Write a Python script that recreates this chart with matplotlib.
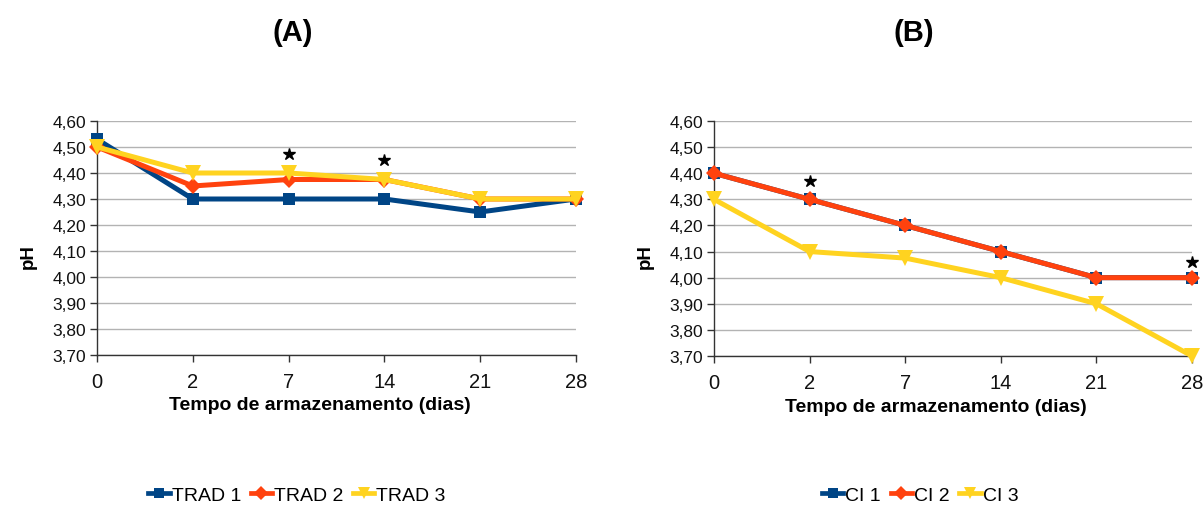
import matplotlib
matplotlib.use("Agg")
import matplotlib.pyplot as plt

plt.rcParams['font.family'] = ['Liberation Sans', 'DejaVu Sans']

days = ["0", "2", "7", "14", "21", "28"]
y_ticks = [3.70, 3.80, 3.90, 4.00, 4.10, 4.20, 4.30, 4.40, 4.50, 4.60]

trad1 = [4.53, 4.30, 4.30, 4.30, 4.25, 4.30]
trad2 = [4.50, 4.35, 4.375, 4.375, 4.30, 4.30]
trad3 = [4.50, 4.40, 4.40, 4.375, 4.30, 4.30]
trad_stars_x = [2, 3]
trad_stars_y = [4.473, 4.45]

ci1 = [4.40, 4.30, 4.20, 4.10, 4.00, 4.00]
ci2 = [4.40, 4.30, 4.20, 4.10, 4.00, 4.00]
ci3 = [4.30, 4.10, 4.075, 4.00, 3.90, 3.70]
ci_stars_x = [1, 5]
ci_stars_y = [4.37, 4.06]

BLUE = "#004586"
ORANGE = "#ff420e"
YELLOW = "#ffd320"
GRID = "#b3b3b3"
AXIS = "#333333"

W, H = 1204, 506
fig = plt.figure(figsize=(W / 100, H / 100), dpi=100)


def px_axes(left, top, right, bottom):
    return fig.add_axes([left / W, 1 - bottom / H, (right - left) / W,
                         (bottom - top) / H])


axA = px_axes(97, 122, 576, 356)
axB = px_axes(714, 122, 1192, 357)


def draw_panel(ax, series, labels, stars_x, stars_y, title, title_x,
               ylab_x, xlab_x, xlab_y, legend_x):
    styles = [(BLUE, "s", 9), (ORANGE, "D", 8), (YELLOW, "v", 11)]
    x = list(range(len(days)))
    for vals, lab, (c, m, ms) in zip(series, labels, styles):
        ax.plot(x, vals, color=c, lw=3.6, marker=m, ms=ms,
                markeredgewidth=0, label=lab, clip_on=False, zorder=3)
    ax.plot(stars_x, stars_y, ls="none", marker="*", color="black", ms=9,
            clip_on=False, zorder=4)
    ax.set_xlim(0, len(days) - 1)
    ax.set_ylim(3.70, 4.60)
    ax.set_xticks(x)
    ax.set_xticklabels(days)
    ax.set_yticks(y_ticks)
    ax.set_yticklabels([f"{v:.2f}".replace(".", ",") for v in y_ticks])
    ax.tick_params(axis="both", color=AXIS, length=5, width=1,
                   labelcolor="#111111")
    ax.tick_params(axis="y", labelsize=12.5, pad=3)
    ax.tick_params(axis="x", labelsize=14.5, pad=7)
    ax.grid(axis="y", color=GRID, lw=1)
    ax.set_axisbelow(True)
    for s in ("top", "right"):
        ax.spines[s].set_visible(False)
    for s in ("left", "bottom"):
        ax.spines[s].set_color(AXIS)
        ax.spines[s].set_linewidth(1)
    fig.text(title_x / W, 1 - 33 / H, title, fontsize=21, fontweight="bold",
             ha="center", va="center")
    fig.text(ylab_x / W, 1 - 257 / H, "pH", fontsize=13.5,
             fontweight="bold", rotation=90, ha="center", va="center")
    fig.text(xlab_x / W, 1 - xlab_y / H, "Tempo de armazenamento (dias)",
             fontsize=14, fontweight="bold", ha="center", va="center")
    leg_handles = []
    for c, m, ms in styles:
        leg_handles.append(plt.Line2D([], [], color=c, lw=3.4, marker=m,
                                      ms=ms * 0.85, markeredgewidth=0))
    fig.legend(leg_handles, labels, loc="center", ncol=3, frameon=False,
               bbox_to_anchor=(legend_x / W, 1 - 496 / H), fontsize=14,
               handlelength=1.1, handletextpad=0.1, columnspacing=0.5)


draw_panel(axA, [trad1, trad2, trad3], ["TRAD 1", "TRAD 2", "TRAD 3"],
           trad_stars_x, trad_stars_y, "(A)", 293, 28, 320, 405, 297)
draw_panel(axB, [ci1, ci2, ci3], ["CI 1", "CI 2", "CI 3"],
           ci_stars_x, ci_stars_y, "(B)", 914, 645, 936, 408, 920)

fig.savefig("out.png", dpi=100)
